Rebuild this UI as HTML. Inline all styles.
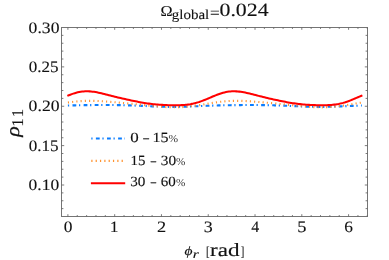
<!DOCTYPE html>
<html><head><meta charset="utf-8"><title>plot</title>
<style>
html,body{margin:0;padding:0;background:#fff;}
svg{display:block;will-change:transform;text-rendering:geometricPrecision;font-family:"Liberation Serif",serif;fill:#111;}
text{stroke:#111;stroke-width:0.12px;}
</style></head>
<body>
<svg width="389" height="260" viewBox="0 0 389 260">
<rect width="389" height="260" fill="#fff" stroke="none"/>
<rect x="61.5" y="27.5" width="306.0" height="189.0" fill="none" stroke="#747474" stroke-width="1"/>
<path d="M67.90,216.5v-2.3M67.90,27.5v2.3M77.26,216.5v-1.45M77.26,27.5v1.45M86.61,216.5v-1.45M86.61,27.5v1.45M95.97,216.5v-1.45M95.97,27.5v1.45M105.32,216.5v-1.45M105.32,27.5v1.45M114.68,216.5v-2.3M114.68,27.5v2.3M124.04,216.5v-1.45M124.04,27.5v1.45M133.39,216.5v-1.45M133.39,27.5v1.45M142.75,216.5v-1.45M142.75,27.5v1.45M152.10,216.5v-1.45M152.10,27.5v1.45M161.46,216.5v-2.3M161.46,27.5v2.3M170.82,216.5v-1.45M170.82,27.5v1.45M180.17,216.5v-1.45M180.17,27.5v1.45M189.53,216.5v-1.45M189.53,27.5v1.45M198.88,216.5v-1.45M198.88,27.5v1.45M208.24,216.5v-2.3M208.24,27.5v2.3M217.60,216.5v-1.45M217.60,27.5v1.45M226.95,216.5v-1.45M226.95,27.5v1.45M236.31,216.5v-1.45M236.31,27.5v1.45M245.66,216.5v-1.45M245.66,27.5v1.45M255.02,216.5v-2.3M255.02,27.5v2.3M264.38,216.5v-1.45M264.38,27.5v1.45M273.73,216.5v-1.45M273.73,27.5v1.45M283.09,216.5v-1.45M283.09,27.5v1.45M292.44,216.5v-1.45M292.44,27.5v1.45M301.80,216.5v-2.3M301.80,27.5v2.3M311.16,216.5v-1.45M311.16,27.5v1.45M320.51,216.5v-1.45M320.51,27.5v1.45M329.87,216.5v-1.45M329.87,27.5v1.45M339.22,216.5v-1.45M339.22,27.5v1.45M348.58,216.5v-2.3M348.58,27.5v2.3M357.94,216.5v-1.45M357.94,27.5v1.45M367.29,216.5v-1.45M367.29,27.5v1.45M61.5,208.62h1.9M367.5,208.62h-1.9M61.5,200.75h1.9M367.5,200.75h-1.9M61.5,192.88h1.9M367.5,192.88h-1.9M61.5,185.00h2.7M367.5,185.00h-2.7M61.5,177.12h1.9M367.5,177.12h-1.9M61.5,169.25h1.9M367.5,169.25h-1.9M61.5,161.38h1.9M367.5,161.38h-1.9M61.5,153.50h1.9M367.5,153.50h-1.9M61.5,145.62h2.7M367.5,145.62h-2.7M61.5,137.75h1.9M367.5,137.75h-1.9M61.5,129.88h1.9M367.5,129.88h-1.9M61.5,122.00h1.9M367.5,122.00h-1.9M61.5,114.12h1.9M367.5,114.12h-1.9M61.5,106.25h2.7M367.5,106.25h-2.7M61.5,98.38h1.9M367.5,98.38h-1.9M61.5,90.50h1.9M367.5,90.50h-1.9M61.5,82.62h1.9M367.5,82.62h-1.9M61.5,74.75h1.9M367.5,74.75h-1.9M61.5,66.88h2.7M367.5,66.88h-2.7M61.5,59.00h1.9M367.5,59.00h-1.9M61.5,51.12h1.9M367.5,51.12h-1.9M61.5,43.25h1.9M367.5,43.25h-1.9M61.5,35.37h1.9M367.5,35.37h-1.9" stroke="#646464" stroke-width="0.85" fill="none"/>
<path d="M67.90,105.53 L69.38,105.48 L70.85,105.44 L72.33,105.40 L73.81,105.36 L75.29,105.33 L76.76,105.30 L78.24,105.27 L79.72,105.24 L81.19,105.22 L82.67,105.19 L84.15,105.17 L85.62,105.15 L87.10,105.14 L88.58,105.12 L90.06,105.11 L91.53,105.09 L93.01,105.08 L94.49,105.07 L95.96,105.06 L97.44,105.06 L98.92,105.05 L100.39,105.04 L101.87,105.04 L103.35,105.04 L104.83,105.04 L106.30,105.04 L107.78,105.04 L109.26,105.04 L110.73,105.05 L112.21,105.06 L113.69,105.07 L115.16,105.08 L116.64,105.10 L118.12,105.12 L119.60,105.14 L121.07,105.17 L122.55,105.20 L124.03,105.23 L125.50,105.27 L126.98,105.31 L128.46,105.35 L129.93,105.40 L131.41,105.44 L132.89,105.50 L134.37,105.55 L135.84,105.61 L137.32,105.67 L138.80,105.73 L140.27,105.80 L141.75,105.87 L143.23,105.93 L144.71,106.00 L146.18,106.07 L147.66,106.14 L149.14,106.21 L150.61,106.27 L152.09,106.34 L153.57,106.40 L155.04,106.46 L156.52,106.52 L158.00,106.57 L159.48,106.62 L160.95,106.67 L162.43,106.71 L163.91,106.75 L165.38,106.78 L166.86,106.81 L168.34,106.83 L169.81,106.84 L171.29,106.85 L172.77,106.85 L174.25,106.85 L175.72,106.84 L177.20,106.83 L178.68,106.81 L180.15,106.78 L181.63,106.75 L183.11,106.72 L184.58,106.68 L186.06,106.63 L187.54,106.59 L189.02,106.53 L190.49,106.48 L191.97,106.42 L193.45,106.37 L194.92,106.30 L196.40,106.24 L197.88,106.18 L199.35,106.12 L200.83,106.06 L202.31,105.99 L203.79,105.93 L205.26,105.87 L206.74,105.81 L208.22,105.76 L209.69,105.70 L211.17,105.65 L212.65,105.60 L214.13,105.55 L215.60,105.50 L217.08,105.46 L218.56,105.42 L220.03,105.38 L221.51,105.35 L222.99,105.31 L224.46,105.28 L225.94,105.26 L227.42,105.23 L228.90,105.21 L230.37,105.18 L231.85,105.16 L233.33,105.15 L234.80,105.13 L236.28,105.11 L237.76,105.10 L239.23,105.09 L240.71,105.08 L242.19,105.07 L243.67,105.06 L245.14,105.05 L246.62,105.05 L248.10,105.04 L249.57,105.04 L251.05,105.04 L252.53,105.04 L254.00,105.04 L255.48,105.04 L256.96,105.05 L258.44,105.05 L259.91,105.06 L261.39,105.08 L262.87,105.09 L264.34,105.11 L265.82,105.13 L267.30,105.16 L268.78,105.18 L270.25,105.21 L271.73,105.25 L273.21,105.29 L274.68,105.33 L276.16,105.37 L277.64,105.42 L279.11,105.47 L280.59,105.52 L282.07,105.58 L283.55,105.64 L285.02,105.70 L286.50,105.77 L287.98,105.83 L289.45,105.90 L290.93,105.97 L292.41,106.04 L293.88,106.10 L295.36,106.17 L296.84,106.24 L298.32,106.31 L299.79,106.37 L301.27,106.43 L302.75,106.49 L304.22,106.55 L305.70,106.60 L307.18,106.65 L308.65,106.69 L310.13,106.73 L311.61,106.77 L313.09,106.79 L314.56,106.82 L316.04,106.84 L317.52,106.85 L318.99,106.85 L320.47,106.85 L321.95,106.85 L323.42,106.84 L324.90,106.82 L326.38,106.80 L327.86,106.77 L329.33,106.74 L330.81,106.70 L332.29,106.66 L333.76,106.61 L335.24,106.56 L336.72,106.51 L338.20,106.45 L339.67,106.39 L341.15,106.34 L342.63,106.27 L344.10,106.21 L345.58,106.15 L347.06,106.09 L348.53,106.02 L350.01,105.96 L351.49,105.90 L352.97,105.84 L354.44,105.79 L355.92,105.73 L357.40,105.68 L358.87,105.62 L360.35,105.57 L361.83,105.53" fill="none" stroke="#0a7dff" stroke-width="2.1" stroke-dasharray="1.25 3.35 3.8 2.7"/>
<path d="M67.90,102.53 L69.38,102.32 L70.85,102.12 L72.33,101.93 L73.81,101.75 L75.29,101.59 L76.76,101.44 L78.24,101.31 L79.72,101.19 L81.19,101.09 L82.67,101.01 L84.15,100.94 L85.62,100.89 L87.10,100.85 L88.58,100.83 L90.06,100.83 L91.53,100.83 L93.01,100.86 L94.49,100.89 L95.96,100.94 L97.44,100.99 L98.92,101.06 L100.39,101.14 L101.87,101.23 L103.35,101.32 L104.83,101.42 L106.30,101.53 L107.78,101.64 L109.26,101.76 L110.73,101.88 L112.21,102.00 L113.69,102.13 L115.16,102.26 L116.64,102.39 L118.12,102.52 L119.60,102.66 L121.07,102.80 L122.55,102.93 L124.03,103.07 L125.50,103.21 L126.98,103.35 L128.46,103.49 L129.93,103.63 L131.41,103.78 L132.89,103.92 L134.37,104.07 L135.84,104.21 L137.32,104.36 L138.80,104.51 L140.27,104.66 L141.75,104.82 L143.23,104.97 L144.71,105.13 L146.18,105.28 L147.66,105.43 L149.14,105.59 L150.61,105.74 L152.09,105.89 L153.57,106.04 L155.04,106.19 L156.52,106.33 L158.00,106.46 L159.48,106.59 L160.95,106.71 L162.43,106.83 L163.91,106.93 L165.38,107.03 L166.86,107.11 L168.34,107.18 L169.81,107.24 L171.29,107.28 L172.77,107.31 L174.25,107.32 L175.72,107.32 L177.20,107.30 L178.68,107.27 L180.15,107.21 L181.63,107.14 L183.11,107.05 L184.58,106.95 L186.06,106.83 L187.54,106.69 L189.02,106.53 L190.49,106.36 L191.97,106.18 L193.45,105.98 L194.92,105.77 L196.40,105.55 L197.88,105.32 L199.35,105.09 L200.83,104.84 L202.31,104.60 L203.79,104.35 L205.26,104.09 L206.74,103.84 L208.22,103.59 L209.69,103.35 L211.17,103.10 L212.65,102.87 L214.13,102.64 L215.60,102.42 L217.08,102.22 L218.56,102.02 L220.03,101.84 L221.51,101.67 L222.99,101.51 L224.46,101.37 L225.94,101.25 L227.42,101.14 L228.90,101.05 L230.37,100.97 L231.85,100.91 L233.33,100.87 L234.80,100.84 L236.28,100.83 L237.76,100.83 L239.23,100.84 L240.71,100.87 L242.19,100.91 L243.67,100.96 L245.14,101.03 L246.62,101.10 L248.10,101.18 L249.57,101.27 L251.05,101.37 L252.53,101.47 L254.00,101.58 L255.48,101.70 L256.96,101.82 L258.44,101.94 L259.91,102.07 L261.39,102.19 L262.87,102.33 L264.34,102.46 L265.82,102.59 L267.30,102.73 L268.78,102.86 L270.25,103.00 L271.73,103.14 L273.21,103.28 L274.68,103.42 L276.16,103.56 L277.64,103.70 L279.11,103.85 L280.59,103.99 L282.07,104.14 L283.55,104.29 L285.02,104.44 L286.50,104.59 L287.98,104.74 L289.45,104.89 L290.93,105.05 L292.41,105.20 L293.88,105.36 L295.36,105.51 L296.84,105.67 L298.32,105.82 L299.79,105.97 L301.27,106.11 L302.75,106.26 L304.22,106.39 L305.70,106.53 L307.18,106.65 L308.65,106.77 L310.13,106.88 L311.61,106.98 L313.09,107.07 L314.56,107.15 L316.04,107.21 L317.52,107.26 L318.99,107.30 L320.47,107.32 L321.95,107.33 L323.42,107.31 L324.90,107.29 L326.38,107.24 L327.86,107.18 L329.33,107.10 L330.81,107.00 L332.29,106.89 L333.76,106.76 L335.24,106.61 L336.72,106.45 L338.20,106.27 L339.67,106.08 L341.15,105.88 L342.63,105.66 L344.10,105.44 L345.58,105.21 L347.06,104.97 L348.53,104.72 L350.01,104.47 L351.49,104.22 L352.97,103.97 L354.44,103.72 L355.92,103.47 L357.40,103.22 L358.87,102.99 L360.35,102.75 L361.83,102.53" fill="none" stroke="#ff922e" stroke-width="2.1" stroke-dasharray="1.1 3.15"/>
<path d="M67.34,95.87 L68.82,95.26 L70.30,94.69 L71.79,94.14 L73.27,93.63 L74.75,93.16 L76.23,92.74 L77.72,92.37 L79.20,92.05 L80.68,91.78 L82.17,91.58 L83.65,91.42 L85.13,91.33 L86.61,91.29 L88.10,91.31 L89.58,91.37 L91.06,91.49 L92.54,91.65 L94.03,91.85 L95.51,92.09 L96.99,92.36 L98.47,92.65 L99.96,92.97 L101.44,93.31 L102.92,93.67 L104.41,94.03 L105.89,94.40 L107.37,94.78 L108.85,95.16 L110.34,95.54 L111.82,95.91 L113.30,96.29 L114.78,96.65 L116.27,97.02 L117.75,97.38 L119.23,97.73 L120.71,98.08 L122.20,98.42 L123.68,98.76 L125.16,99.10 L126.65,99.43 L128.13,99.75 L129.61,100.08 L131.09,100.39 L132.58,100.71 L134.06,101.01 L135.54,101.32 L137.02,101.61 L138.51,101.90 L139.99,102.18 L141.47,102.45 L142.95,102.70 L144.44,102.95 L145.92,103.19 L147.40,103.41 L148.89,103.62 L150.37,103.81 L151.85,103.99 L153.33,104.16 L154.82,104.31 L156.30,104.45 L157.78,104.58 L159.26,104.69 L160.75,104.79 L162.23,104.88 L163.71,104.96 L165.19,105.03 L166.68,105.10 L168.16,105.15 L169.64,105.19 L171.13,105.23 L172.61,105.26 L174.09,105.27 L175.57,105.27 L177.06,105.26 L178.54,105.24 L180.02,105.19 L181.50,105.13 L182.99,105.04 L184.47,104.93 L185.95,104.78 L187.43,104.61 L188.92,104.40 L190.40,104.16 L191.88,103.88 L193.37,103.57 L194.85,103.21 L196.33,102.82 L197.81,102.38 L199.30,101.91 L200.78,101.40 L202.26,100.86 L203.74,100.30 L205.23,99.70 L206.71,99.09 L208.19,98.47 L209.67,97.83 L211.16,97.20 L212.64,96.56 L214.12,95.94 L215.61,95.34 L217.09,94.76 L218.57,94.21 L220.05,93.69 L221.54,93.22 L223.02,92.79 L224.50,92.41 L225.98,92.08 L227.47,91.81 L228.95,91.60 L230.43,91.44 L231.91,91.34 L233.40,91.29 L234.88,91.30 L236.36,91.36 L237.84,91.47 L239.33,91.63 L240.81,91.82 L242.29,92.06 L243.78,92.32 L245.26,92.62 L246.74,92.93 L248.22,93.27 L249.71,93.62 L251.19,93.99 L252.67,94.36 L254.15,94.73 L255.64,95.11 L257.12,95.49 L258.60,95.87 L260.08,96.24 L261.57,96.61 L263.05,96.97 L264.53,97.33 L266.02,97.69 L267.50,98.04 L268.98,98.38 L270.46,98.72 L271.95,99.06 L273.43,99.39 L274.91,99.71 L276.39,100.04 L277.88,100.35 L279.36,100.67 L280.84,100.98 L282.32,101.28 L283.81,101.58 L285.29,101.86 L286.77,102.14 L288.26,102.41 L289.74,102.67 L291.22,102.92 L292.70,103.16 L294.19,103.38 L295.67,103.59 L297.15,103.79 L298.63,103.97 L300.12,104.14 L301.60,104.29 L303.08,104.43 L304.56,104.56 L306.05,104.68 L307.53,104.78 L309.01,104.87 L310.50,104.95 L311.98,105.03 L313.46,105.09 L314.94,105.14 L316.43,105.19 L317.91,105.23 L319.39,105.25 L320.87,105.27 L322.36,105.27 L323.84,105.26 L325.32,105.24 L326.80,105.20 L328.29,105.14 L329.77,105.05 L331.25,104.94 L332.74,104.80 L334.22,104.63 L335.70,104.43 L337.18,104.19 L338.67,103.92 L340.15,103.61 L341.63,103.26 L343.11,102.87 L344.60,102.44 L346.08,101.97 L347.56,101.47 L349.04,100.93 L350.53,100.37 L352.01,99.78 L353.49,99.17 L354.98,98.54 L356.46,97.91 L357.94,97.27 L359.42,96.64 L360.91,96.02 L362.39,95.41" fill="none" stroke="#ff0000" stroke-width="2.05"/>
<path d="M91.3,138.5H125" fill="none" stroke="#0a7dff" stroke-width="2.0" stroke-dasharray="1.25 3.35 3.8 2.7"/>
<path d="M91.3,160.9H125" fill="none" stroke="#ff922e" stroke-width="2.1" stroke-dasharray="1.2 3.13"/>
<path d="M90.9,183.3H125.2" fill="none" stroke="#ff0000" stroke-width="2.0"/>
<text x="28.64" y="33" font-size="15.9" textLength="30.82" lengthAdjust="spacingAndGlyphs">0.30</text>
<text x="28.66" y="72" font-size="15.9" textLength="29.82" lengthAdjust="spacingAndGlyphs">0.25</text>
<text x="28.64" y="111" font-size="15.9" textLength="30.93" lengthAdjust="spacingAndGlyphs">0.20</text>
<text x="28.66" y="151" font-size="15.9" textLength="29.93" lengthAdjust="spacingAndGlyphs">0.15</text>
<text x="28.64" y="190" font-size="15.9" textLength="30.61" lengthAdjust="spacingAndGlyphs">0.10</text>
<text x="63.7" y="232" font-size="15.9" textLength="8.71" lengthAdjust="spacingAndGlyphs">0</text>
<text x="109.92" y="232" font-size="15.9" textLength="8.37" lengthAdjust="spacingAndGlyphs">1</text>
<text x="157.13" y="232" font-size="15.9" textLength="9.19" lengthAdjust="spacingAndGlyphs">2</text>
<text x="203.84" y="232" font-size="15.9" textLength="8.97" lengthAdjust="spacingAndGlyphs">3</text>
<text x="251.15" y="232" font-size="15.9" textLength="7.96" lengthAdjust="spacingAndGlyphs">4</text>
<text x="297.19" y="232" font-size="15.9" textLength="9.19" lengthAdjust="spacingAndGlyphs">5</text>
<text x="344.29" y="232" font-size="15.9" textLength="8.65" lengthAdjust="spacingAndGlyphs">6</text>
<text x="130.36" y="142" font-size="14" textLength="8.47" lengthAdjust="spacingAndGlyphs">0</text>
<text x="143.19" y="142" font-size="14" textLength="5.73" lengthAdjust="spacingAndGlyphs">–</text>
<text x="152.5" y="142" font-size="14" textLength="16.05" lengthAdjust="spacingAndGlyphs">15</text>
<text x="168.4" y="142" font-size="10.6" textLength="9.58" lengthAdjust="spacingAndGlyphs" fill="#333" style="stroke:none">%</text>
<text x="130.6" y="165" font-size="14" textLength="14.9" lengthAdjust="spacingAndGlyphs">15</text>
<text x="150.78" y="165" font-size="14" textLength="5.34" lengthAdjust="spacingAndGlyphs">–</text>
<text x="160.77" y="165" font-size="14" textLength="15.3" lengthAdjust="spacingAndGlyphs">30</text>
<text x="176.01" y="165" font-size="10.6" textLength="9.36" lengthAdjust="spacingAndGlyphs" fill="#333" style="stroke:none">%</text>
<text x="130.28" y="186" font-size="14" textLength="15.19" lengthAdjust="spacingAndGlyphs">30</text>
<text x="150.78" y="186" font-size="14" textLength="5.34" lengthAdjust="spacingAndGlyphs">–</text>
<text x="160.86" y="186" font-size="14" textLength="15.0" lengthAdjust="spacingAndGlyphs">60</text>
<text x="176.01" y="186" font-size="10.6" textLength="9.36" lengthAdjust="spacingAndGlyphs" fill="#333" style="stroke:none">%</text>
<text x="160.45" y="16" font-size="15.1" textLength="12.08" lengthAdjust="spacingAndGlyphs">Ω</text>
<text x="171.86" y="19" font-size="13.7" textLength="37.43" lengthAdjust="spacingAndGlyphs">global</text>
<text x="210.04" y="18" font-size="16" textLength="9.7" lengthAdjust="spacingAndGlyphs">=</text>
<text x="219.48" y="16" font-size="18.8" textLength="49.15" lengthAdjust="spacingAndGlyphs">0.024</text>
<text x="184.55" y="255" font-size="12.6" textLength="8.0" lengthAdjust="spacingAndGlyphs" font-style="italic">ϕ</text>
<text x="192.89" y="258" font-size="12.0" textLength="5.96" lengthAdjust="spacingAndGlyphs" font-style="italic">r</text>
<text x="206.09" y="256" font-size="13.7" textLength="3.59" lengthAdjust="spacingAndGlyphs">[</text>
<text x="210.14" y="256" font-size="18.7" textLength="29.54" lengthAdjust="spacingAndGlyphs">rad</text>
<text x="240.73" y="256" font-size="13.7" textLength="3.55" lengthAdjust="spacingAndGlyphs">]</text>
<text transform="translate(19.0,200.0) rotate(-90)" x="63.15" y="0" font-size="19.0" textLength="10.51" lengthAdjust="spacingAndGlyphs" font-style="italic" style="stroke-width:0.2px">ρ</text>
<text transform="translate(23.0,200.0) rotate(-90)" x="73.34" y="0" font-size="16.4" textLength="8.37" lengthAdjust="spacingAndGlyphs">1</text>
<text transform="translate(23.0,200.0) rotate(-90)" x="82.84" y="0" font-size="16.4" textLength="8.37" lengthAdjust="spacingAndGlyphs">1</text>
</svg>
</body></html>
